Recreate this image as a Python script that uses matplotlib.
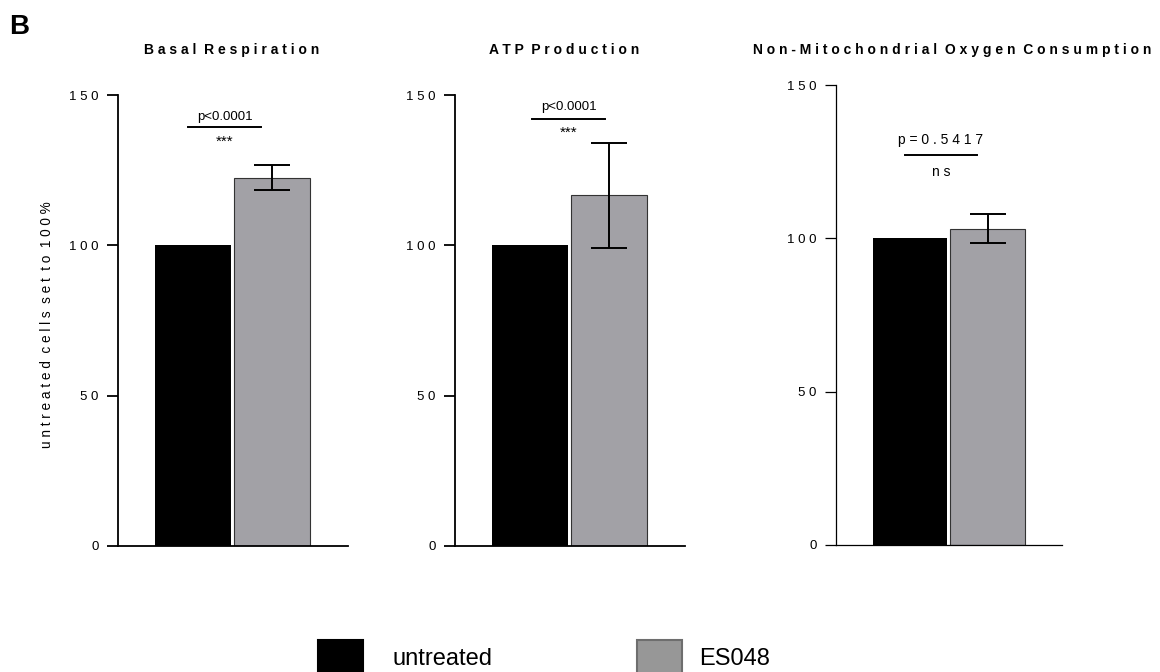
import matplotlib.pyplot as plt
from matplotlib.patches import Rectangle

plt.rcParams['font.family'] = ['Liberation Sans', 'DejaVu Sans']

groups = ['untreated', 'ES048']
panel_titles = ['Basal Respiration', 'ATP Production', 'Non-Mitochondrial Oxygen Consumption']
untreated_mean = [100, 100, 100]
es048_mean = [122.5, 116.6, 103.1]
es048_sd = [4.2, 17.4, 4.75]
p_values = ['p<0.0001', 'p<0.0001', 'p=0.5417']
stars = ['***', '***', 'ns']
yticks = [0, 50, 100, 150]
ytick_labels = ['0', '5 0', '1 0 0', '1 5 0']

bar_colors = ['black', '#a2a1a6']


def spaced(s):
    # fake letter spacing: single space between letters, wider gap between words
    return '  '.join(' '.join(w) for w in s.split(' '))


fig = plt.figure(figsize=(11.6, 6.72), dpi=100)
W, H = 1160, 672

# axes rectangles (left, bottom, width, height) in figure fractions
rects = [
    (0.1017, 0.1875, 0.198, 0.6711),
    (0.3922, 0.1875, 0.198, 0.6711),
    (0.7207, 0.1890, 0.195, 0.6845),
]
# annotation placement: line y, line x range, p text y, star y
annot = [
    (139.3, (-0.06, 0.86), 142.8, 134.4),
    (142.0, (0.03, 0.95), 146.0, 137.3),
    (127.2, (-0.06, 0.86), 132.0, 121.6),
]
spine_w = [1.3, 1.3, 0.9]

for i in range(3):
    ax = fig.add_axes(rects[i])
    vals = [untreated_mean[i], es048_mean[i]]
    ax.bar([0, 1], vals, width=0.96, color=bar_colors,
           edgecolor=['black', '#333333'], linewidth=[0, 0.8], zorder=2)
    ax.errorbar([1], [es048_mean[i]], yerr=[es048_sd[i]], fmt='none',
                ecolor='black', elinewidth=1.4, capsize=13, capthick=1.4, zorder=3)
    ax.set_xlim(-0.95, 1.96)
    ax.set_ylim(0, 150)
    ax.set_xticks([])
    ax.set_yticks(yticks)
    ax.set_yticklabels(ytick_labels, fontsize=9.5)
    ax.tick_params(axis='y', length=8, width=spine_w[i], pad=6)
    for s in ['top', 'right']:
        ax.spines[s].set_visible(False)
    for s in ['left', 'bottom']:
        ax.spines[s].set_linewidth(spine_w[i])
    ax.patch.set_visible(False)

    ly, (x0, x1), ty, sy = annot[i]
    xm = (x0 + x1) / 2
    ax.plot([x0, x1], [ly, ly], color='black', lw=1.4, clip_on=False)
    if i < 2:
        ax.text(xm, ty, p_values[i], ha='center', va='center', fontsize=9.5)
        ax.text(xm, sy, stars[i], ha='center', va='center', fontsize=11)
    else:
        ax.text(xm, ty, ' '.join(p_values[i]), ha='center', va='center', fontsize=10)
        ax.text(xm, sy, ' '.join(stars[i]), ha='center', va='center', fontsize=10)

title_x = [232 / W, 564 / W, 952 / W]
for i in range(3):
    fig.text(title_x[i], 1 - 50 / H, spaced(panel_titles[i]), ha='center', va='center',
             fontsize=10, fontweight='bold')

fig.text(47 / W, 1 - 325 / H, spaced('untreated cells set to 100%'), rotation=90,
         ha='center', va='center', fontsize=9.8)

fig.text(9 / W, 1 - 27 / H, 'B', ha='left', va='center', fontsize=20, fontweight='bold')

# legend swatches and labels, placed along the bottom edge
swatch_x = [318, 637]
label_x = [393, 699]
swatch_face = ['black', '#979797']
swatch_edge = ['black', '#6e6e6e']
for k in range(2):
    fig.add_artist(Rectangle((swatch_x[k] / W, 1 - 680 / H), 45 / W, 40 / H,
                             transform=fig.transFigure, facecolor=swatch_face[k],
                             edgecolor=swatch_edge[k], linewidth=1.5))
    fig.text(label_x[k] / W, 1 - 659 / H, groups[k], ha='left', va='center', fontsize=17)

fig.savefig('out.png', dpi=100)
